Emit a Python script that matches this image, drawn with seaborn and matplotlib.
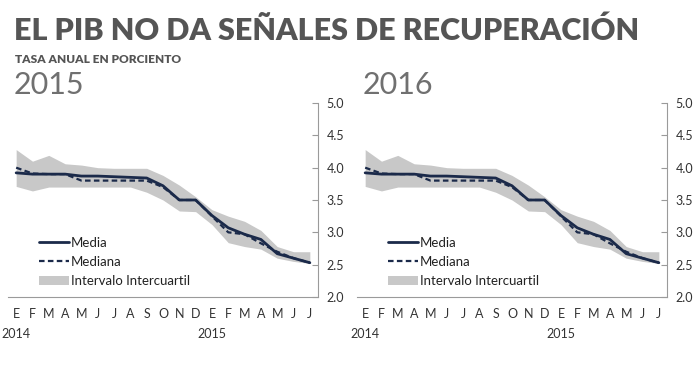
import numpy as np
import pandas as pd
import matplotlib
matplotlib.use("Agg")
import matplotlib.pyplot as plt
from matplotlib.lines import Line2D
from matplotlib.patches import Patch
import seaborn as sns

# data (monthly Jan 2014 - Jul 2015)
meses = ["E", "F", "M", "A", "M", "J", "J", "A", "S", "O", "N", "D",
         "E", "F", "M", "A", "M", "J", "J"]
media = [3.92, 3.90, 3.90, 3.90, 3.87, 3.87, 3.86, 3.85, 3.84, 3.72,
         3.50, 3.50, 3.26, 3.07, 2.97, 2.89, 2.67, 2.60, 2.53]
mediana = [4.00, 3.91, 3.90, 3.90, 3.80, 3.80, 3.80, 3.80, 3.80, 3.70,
           3.50, 3.50, 3.25, 3.00, 2.97, 2.83, 2.70, 2.60, 2.53]
q_alto = [4.28, 4.10, 4.19, 4.06, 4.04, 4.00, 3.99, 3.99, 3.99, 3.88,
          3.73, 3.55, 3.35, 3.25, 3.17, 3.03, 2.78, 2.70, 2.70]
q_bajo = [3.71, 3.64, 3.70, 3.70, 3.70, 3.70, 3.70, 3.70, 3.62, 3.50,
          3.33, 3.32, 3.12, 2.84, 2.78, 2.74, 2.60, 2.55, 2.52]
anios = ["2014", "2015"]
paneles = ["2015", "2016"]

df = pd.DataFrame({"pos": np.arange(len(meses)), "media": media,
                   "mediana": mediana, "alto": q_alto, "bajo": q_bajo})

sns.set_style("white")
plt.rcParams["font.family"] = ["Lato", "DejaVu Sans"]

NAVY = "#1b2a4a"
BAND = "#c8c8c8"
AXC = "#9a9a9a"

fig = plt.figure(figsize=(7, 3.7), dpi=100)

fig.text(0.02, 0.893, "EL PIB NO DA SEÑALES DE RECUPERACIÓN", fontsize=22,
         fontweight="heavy", color="#555555", va="baseline")
fig.text(0.021, 0.830, "TASA ANUAL EN PORCIENTO", fontsize=8.6,
         fontweight="heavy", color="#555555", va="baseline")

lefts = [8 / 700, 357 / 700]
for left, panel in zip(lefts, paneles):
    ax = fig.add_axes([left, 73 / 370, 310 / 700, 194 / 370])
    fig.text(left + 6 / 700, 0.746, panel, fontsize=22, fontweight="normal",
             color="#707070", va="baseline")

    ax.fill_between(df["pos"], df["bajo"], df["alto"], color=BAND, lw=0)
    sns.lineplot(data=df, x="pos", y="media", ax=ax, color=NAVY, lw=2.0)
    sns.lineplot(data=df, x="pos", y="mediana", ax=ax, color=NAVY, lw=1.6,
                 linestyle=(0, (2.5, 1.5)))

    ax.set_xlim(-0.5, len(meses) - 0.5)
    ax.set_ylim(2, 5)
    ax.set_xlabel("")
    ax.set_ylabel("")

    for s in ["top", "left"]:
        ax.spines[s].set_visible(False)
    for s in ["bottom", "right"]:
        ax.spines[s].set_color(AXC)
        ax.spines[s].set_linewidth(0.8)

    ax.set_xticks(df["pos"])
    ax.set_xticklabels(meses)
    ax.set_xticks(np.arange(-0.5, len(meses)), minor=True)
    ax.tick_params(axis="x", which="major", length=0, pad=8,
                   labelsize=9, labelcolor="#333333")
    ax.tick_params(axis="x", which="minor", length=4, width=0.8,
                   color=AXC, direction="out")

    ax.yaxis.tick_right()
    ax.set_yticks(np.arange(2, 5.01, 0.5))
    ax.set_yticklabels([f"{v:.1f}" for v in np.arange(2, 5.01, 0.5)])
    ax.tick_params(axis="y", length=4, width=0.8, color=AXC, direction="in",
                   pad=6, labelsize=9, labelcolor="#333333")

    tr = ax.get_xaxis_transform()
    ax.text(0, -0.19, anios[0], transform=tr, ha="center", va="center",
            fontsize=9, color="#333333")
    ax.text(12, -0.19, anios[1], transform=tr, ha="center", va="center",
            fontsize=9, color="#333333")

    handles = [Line2D([], [], color=NAVY, lw=2.0),
               Line2D([], [], color=NAVY, lw=1.6, linestyle=(0, (2.5, 1.5))),
               Patch(color=BAND, lw=0)]
    ax.legend(handles, ["Media", "Mediana", "Intervalo Intercuartil"],
              loc="lower left", bbox_to_anchor=(0.1, 0.05), frameon=False,
              borderpad=0, borderaxespad=0, fontsize=9.5, handlelength=2.3,
              handletextpad=0.1, labelspacing=0.55, labelcolor="#222222")

fig.savefig("out.png", dpi=100)
